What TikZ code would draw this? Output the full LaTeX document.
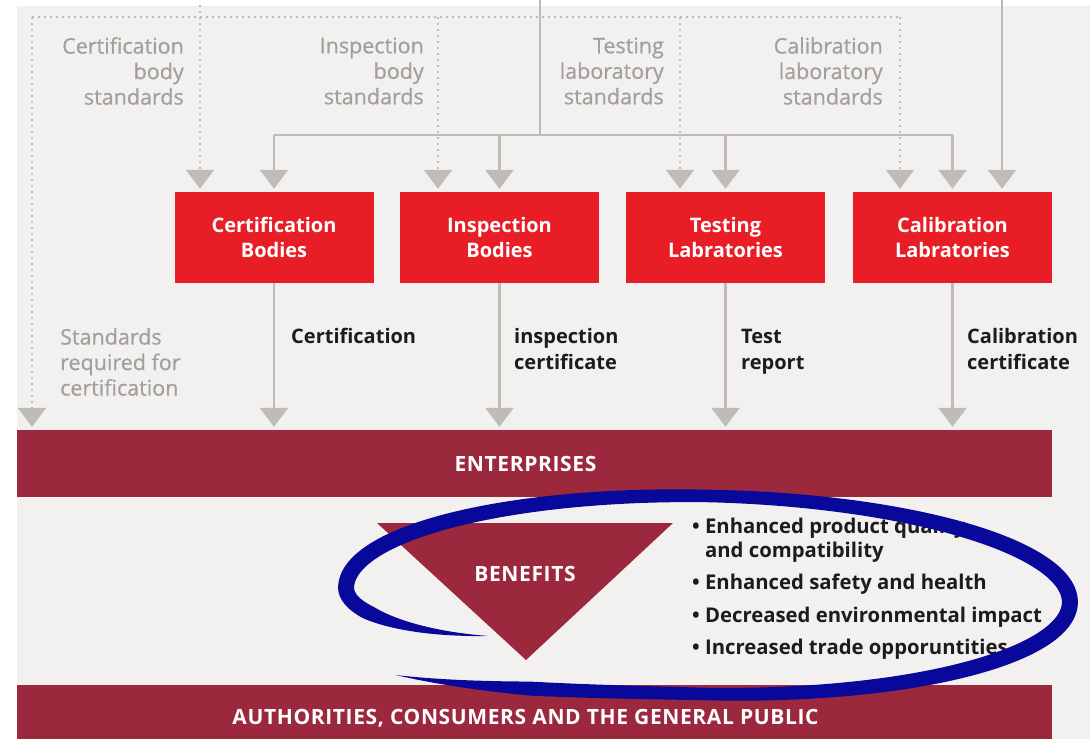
\documentclass[tikz,border=0pt]{standalone}
\usepackage{fontspec}
\setmainfont{Open Sans}
\newfontfamily\medfont[FakeBold=0.6]{Open Sans}
\newfontfamily\capsfont[LetterSpace=3]{Open Sans}
\usetikzlibrary{arrows.meta}
\definecolor{bgc}{HTML}{F3F1EF}
\definecolor{redbox}{HTML}{E91D25}
\definecolor{maroon}{HTML}{9C283D}
\definecolor{lgrey}{HTML}{BFBBB9}
\definecolor{tgrey}{HTML}{A29F9D}
\definecolor{txt}{HTML}{1C1C1C}
\definecolor{ink}{HTML}{08089A}
\begin{document}
\begin{tikzpicture}[x=1pt,y=-1pt,
  solidln/.style={draw=lgrey, line width=2.5pt},
  dotln/.style={draw=lgrey, line width=2pt, dash pattern=on 1.6pt off 4.4pt},
  tipa/.style={-{Triangle[width=28pt,length=19pt]}, shorten >=3pt},
  redbox/.style={fill=redbox, minimum width=199pt, minimum height=91pt, inner sep=0pt,
     text=white, align=center, font=\bfseries\fontsize{20}{24.5}\selectfont},
  band/.style={fill=maroon, inner sep=0pt},
  bandtext/.style={text=white, font=\capsfont\bfseries\fontsize{21}{24}\selectfont, inner sep=0pt},
  greytext/.style={text=tgrey, font=\medfont\fontsize{21.5}{25.5}\selectfont, inner sep=0pt},
  blacktext/.style={text=txt, font=\bfseries\fontsize{20}{25.5}\selectfont, inner sep=0pt, align=left},
  bullettext/.style={text=txt, font=\bfseries\fontsize{20.3}{24}\selectfont, inner sep=0pt, align=left, anchor=west},
  declare function={
    sxf(\t)=1-0.21*(max(0,180-\t)/40)^2+0.12*(max(0,\t-450)/50)^2;
    syf(\t)=1-0.284*(max(0,180-\t)/40)^2+0.36*(max(0,\t-450)/50)^2;
    wf(\t)=(12.5+3.5*abs(cos(\t)))*min(1,max(0,(\t-140)/25),max(0,(500-\t)/22));
    nden(\t)=sqrt((0.99*cos(\t))^2+(3.62*sin(\t))^2);
    nxf(\t)=0.99*cos(\t)/nden(\t);
    nyf(\t)=3.62*sin(\t)/nden(\t);
    lx(\t,\s)=362*sxf(\t)*cos(\t)+\s*wf(\t)/2*nxf(\t);
    ly(\t,\s)=99*syf(\t)*sin(\t)+\s*wf(\t)/2*nyf(\t);
    ex(\t,\s)=708+lx(\t,\s)*cos(1.2)-ly(\t,\s)*sin(1.2);
    ey(\t,\s)=595+lx(\t,\s)*sin(1.2)+ly(\t,\s)*cos(1.2);}
]
\useasboundingbox (0,0) rectangle (1090,739);
\fill[white] (0,0) rectangle (1090,739);
\fill[bgc] (17,6) rectangle (1090,739);

% boxes
\node[redbox] (cb) at (274,237.5) {Certification\\Bodies};
\node[redbox] (ib) at (499.5,237.5) {Inspection\\Bodies};
\node[redbox] (tl) at (725.5,237.5) {Testing\\Labratories};
\node[redbox] (cl) at (952.5,237.5) {Calibration\\Labratories};

% bands
\node[band, minimum width=1035pt, minimum height=67pt] (ent) at (534.5,463.5) {};
\node[bandtext] (entt) at (525.5,464) {ENTERPRISES};
\node[band, minimum width=1035pt, minimum height=54pt] (pub) at (534.5,712) {};
\node[bandtext] (pubt) at (525.5,718) {AUTHORITIES, CONSUMERS AND THE GENERAL PUBLIC};

% benefits triangle
\fill[maroon] (377,523) -- (673,523) -- (526,660) -- cycle;
\node[bandtext] (ben) at (525,574) {BENEFITS};

% dotted standards network
\coordinate (dtl) at (32,17);
\coordinate (dtr) at (900,17);
\coordinate (d1top) at (200,5);
\coordinate (d1) at (200,17);
\coordinate (d2) at (438,17);
\coordinate (d3) at (680,17);
\draw[dotln] (dtl) -- (dtr);
\draw[dotln] (d1top) -- (d1);
\draw[dotln, tipa] (dtl) -- (dtl |- ent.north);
\draw[dotln, tipa] (d1) -- (d1 |- cb.north);
\draw[dotln, tipa] (d2) -- (d2 |- ib.north);
\draw[dotln, tipa] (d3) -- (d3 |- tl.north);
\draw[dotln, tipa] (dtr) -- (dtr |- cl.north);

% solid network
\coordinate (stop) at (540,0);
\coordinate (hub) at (540,135);
\coordinate (hl) at (cb.north |- hub);
\coordinate (hr) at (cl.north |- hub);
\coordinate (rtop) at (1002,0);
\draw[solidln] (stop) -- (hub);
\draw[solidln] (hl) -- (hr);
\draw[solidln, tipa] (hl) -- (cb.north);
\draw[solidln, tipa] (ib.north |- hub) -- (ib.north);
\draw[solidln, tipa] (tl.north |- hub) -- (tl.north);
\draw[solidln, tipa] (hr) -- (cl.north);
\draw[solidln, tipa] (rtop) -- (rtop |- cl.north);

% outputs
\draw[solidln, tipa] (cb.south) -- (cb.south |- ent.north);
\draw[solidln, tipa] (ib.south) -- (ib.south |- ent.north);
\draw[solidln, tipa] (tl.south) -- (tl.south |- ent.north);
\draw[solidln, tipa] (cl.south) -- (cl.south |- ent.north);

% grey labels
\node[greytext, align=right, anchor=east] (l1) at (184,71) {Certification\\body\\standards};
\node[greytext, align=right, anchor=east] (l2) at (424,71) {Inspection\\body\\standards};
\node[greytext, align=right, anchor=east] (l3) at (664,71) {Testing\\laboratory\\standards};
\node[greytext, align=right, anchor=east] (l4) at (883,71) {Calibration\\laboratory\\standards};
\node[greytext, align=left, anchor=west] (l0) at (60,362) {Standards\\required for\\certification};

% black labels
\node[blacktext, anchor=west] (o1) at (291,336) {Certification};
\node[blacktext, anchor=west] (o2) at (514,349) {inspection\\certificate};
\node[blacktext, anchor=west] (o3) at (741,352) {Test\\report};
\node[blacktext, anchor=west] (o4) at (967,349) {Calibration\\certificate};

% bullets
\node[bullettext] (b1) at (692,540) {\textbullet\ Enhanced product quality\\\phantom{\textbullet\ }and compatibility};
\node[bullettext] (b2) at (692,584) {\textbullet\ Enhanced safety and health};
\node[bullettext] (b3) at (692,617) {\textbullet\ Decreased environmental impact};
\node[bullettext] (b4) at (692,649) {\textbullet\ Increased trade opporuntities};

% hand-drawn ellipse (tapered stroke)
\fill[ink]
  plot[domain=140:500, samples=300, variable=\t] ({ex(\t,1)},{ey(\t,1)})
  -- plot[domain=500:140, samples=300, variable=\t] ({ex(\t,-1)},{ey(\t,-1)})
  -- cycle;
\end{tikzpicture}
\end{document}
